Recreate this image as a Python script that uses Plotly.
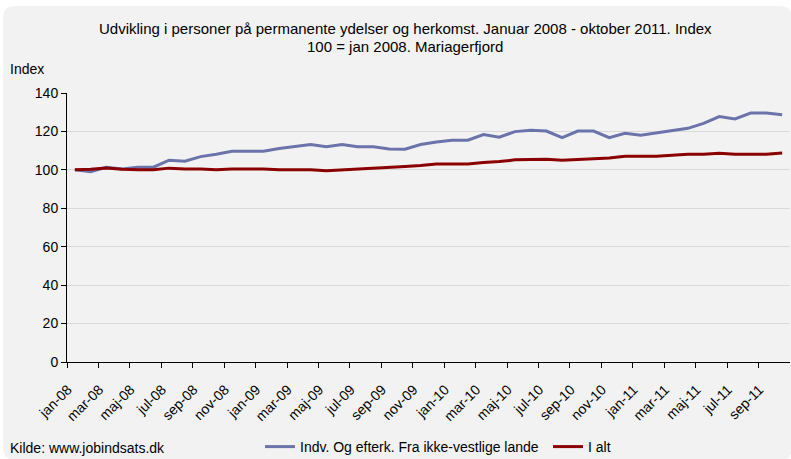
import plotly.graph_objects as go

months = ["jan-08","feb-08","mar-08","apr-08","maj-08","jun-08","jul-08","aug-08","sep-08","okt-08","nov-08","dec-08",
          "jan-09","feb-09","mar-09","apr-09","maj-09","jun-09","jul-09","aug-09","sep-09","okt-09","nov-09","dec-09",
          "jan-10","feb-10","mar-10","apr-10","maj-10","jun-10","jul-10","aug-10","sep-10","okt-10","nov-10","dec-10",
          "jan-11","feb-11","mar-11","apr-11","maj-11","jun-11","jul-11","aug-11","sep-11","okt-11"]

blue = [100, 99, 101.3, 100.4, 101.4, 101.4, 105, 104.5, 106.9, 108.1, 109.7, 109.7,
        109.7, 111.1, 112.1, 113.2, 112, 113.2, 112, 112, 110.9, 110.7, 113.2, 114.5,
        115.4, 115.4, 118.4, 117, 119.9, 120.6, 120.2, 116.8, 120.2, 120.2, 116.8, 119,
        118, 119.2, 120.6, 121.6, 124.2, 127.7, 126.5, 129.6, 129.6, 128.7]

red = [100, 100.3, 101, 100.3, 100, 100, 100.9, 100.5, 100.5, 100, 100.5, 100.5,
       100.5, 100, 100, 100, 99.6, 100, 100.2, 100.7, 101.2, 101.7, 102.3, 103.1,
       103.1, 103.1, 103.8, 104.3, 105.2, 105.5, 105.5, 105, 105.5, 105.7, 106.2, 107.1,
       107.1, 107.1, 107.6, 108.1, 108.1, 108.7, 108.1, 108.1, 108.1, 108.8]

series_names = ["Indv. Og efterk. Fra ikke-vestlige lande", "I alt"]
title_lines = ["Udvikling i personer på permanente ydelser og herkomst. Januar 2008 - oktober 2011. Index",
               "100 = jan 2008. Mariagerfjord"]
y_ticks = [0, 20, 40, 60, 80, 100, 120, 140]

x = list(range(len(months)))
label_idx = list(range(0, len(months) - 1, 2))

W, H = 791, 459
L, R, T, B = 67, 1, 93, 97
pw, ph = W - L - R, H - T - B

def px(xp):
    return (xp - L) / pw

def py(yp):
    return (H - B - yp) / ph

fig = go.Figure()
fig.add_trace(go.Scatter(x=x, y=blue, mode="lines", name=series_names[0],
                         line=dict(color="#6b74aa", width=3), legend="legend"))
fig.add_trace(go.Scatter(x=x, y=red, mode="lines", name=series_names[1],
                         line=dict(color="#8b0000", width=3), legend="legend2"))

# rounded background panel
x0, y0, x1, y1, r = 3, 6, 792, 460, 12
path = (f"M {px(x0+r)},{py(y0)} L {px(x1-r)},{py(y0)} Q {px(x1)},{py(y0)} {px(x1)},{py(y0+r)} "
        f"L {px(x1)},{py(y1-r)} Q {px(x1)},{py(y1)} {px(x1-r)},{py(y1)} "
        f"L {px(x0+r)},{py(y1)} Q {px(x0)},{py(y1)} {px(x0)},{py(y1-r)} "
        f"L {px(x0)},{py(y0+r)} Q {px(x0)},{py(y0)} {px(x0+r)},{py(y0)} Z")

legend_common = dict(orientation="h", yanchor="middle", xanchor="left",
                     bgcolor="rgba(0,0,0,0)", font=dict(size=14), itemwidth=30)

def ann(text, xp, yp, anchor="left", size=14):
    return dict(text=text, xref="paper", yref="paper", x=px(xp), y=py(yp),
                xanchor=anchor, yanchor="middle", showarrow=False, font=dict(size=size))

fig.update_layout(
    width=W, height=H,
    margin=dict(l=L, r=R, t=T, b=B, autoexpand=False),
    paper_bgcolor="white",
    plot_bgcolor="rgba(0,0,0,0)",
    font=dict(family="Liberation Sans, Arial, sans-serif", size=14, color="black"),
    shapes=[dict(type="path", xref="paper", yref="paper", path=path,
                 fillcolor="#f2f2f2", line=dict(width=0), layer="below")],
    xaxis=dict(range=[-0.5, len(months) - 0.5], showgrid=False, zeroline=False,
               showline=True, linecolor="black", linewidth=1, automargin=False,
               tickmode="array", tickvals=[i - 0.45 for i in label_idx],
               ticktext=[months[i] for i in label_idx], tickangle=-45, ticks="",
               ticklabelstandoff=13,
               tickfont=dict(size=14),
               minor=dict(tickmode="array", tickvals=[i - 0.5 for i in label_idx],
                          ticks="outside", ticklen=5, tickcolor="black", showgrid=False)),
    yaxis=dict(range=[0, 140], tickmode="array", tickvals=y_ticks, automargin=False,
               showgrid=True, gridcolor="#d9d9d9", gridwidth=1, zeroline=False,
               showline=True, linecolor="black", linewidth=1,
               ticks="outside", ticklen=5, tickcolor="black", tickfont=dict(size=14)),
    showlegend=True,
    legend=dict(x=px(260), y=py(447), **legend_common),
    legend2=dict(x=px(548), y=py(447), **legend_common),
    annotations=[
        ann(title_lines[0], 405, 29, "center", 15),
        ann(title_lines[1], 405, 46, "center", 15),
        ann("Index", 8, 69),
        ann("Kilde: www.jobindsats.dk", 8, 448),
    ],
)

fig.write_html("out.html", config={"displayModeBar": False},
               post_script="document.body.style.margin='0px';")
